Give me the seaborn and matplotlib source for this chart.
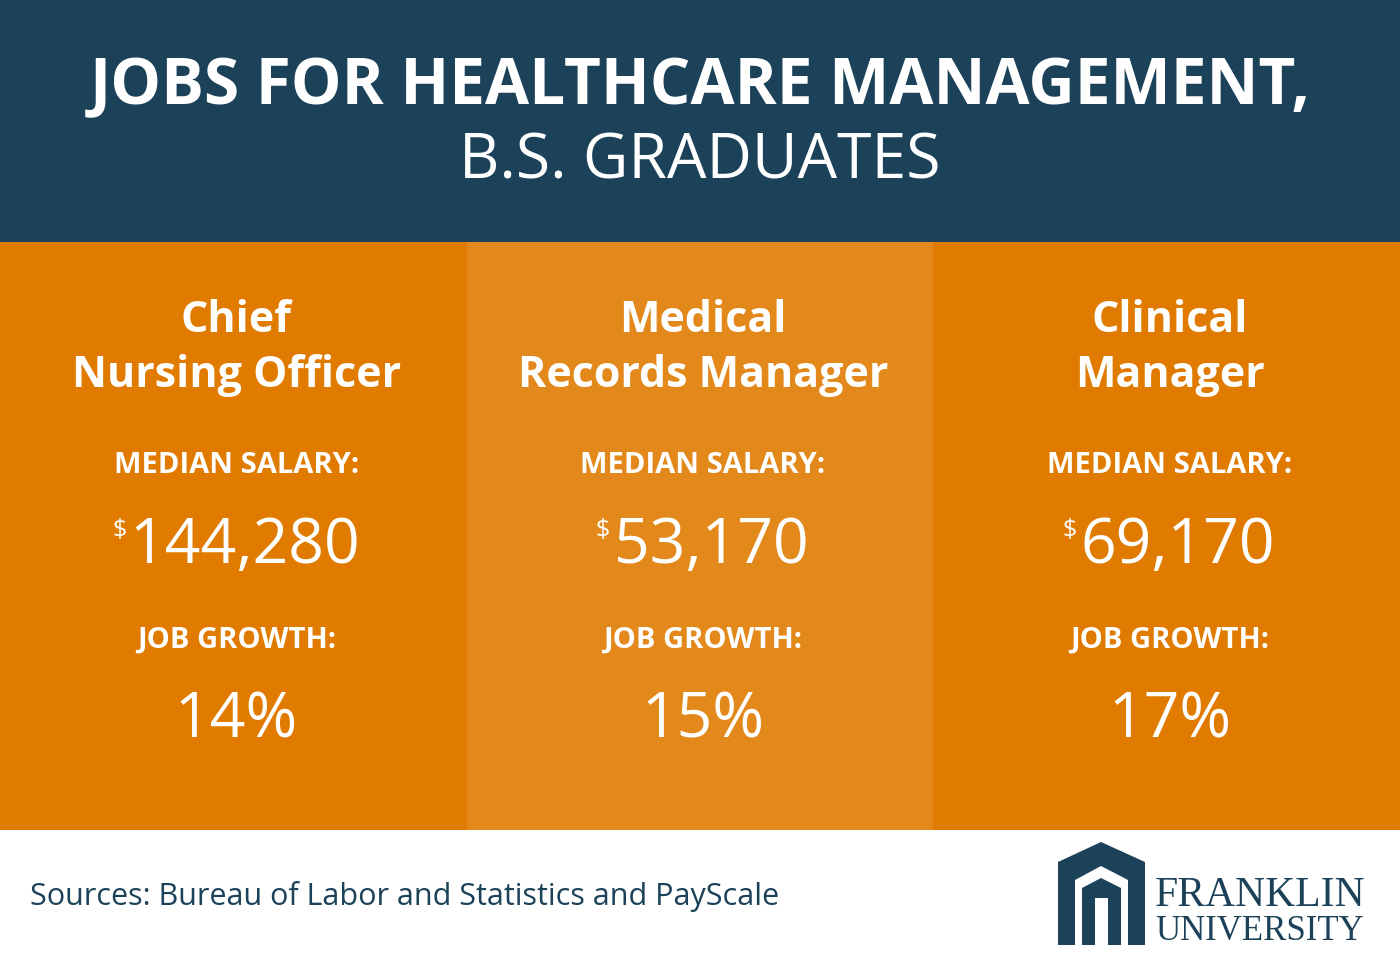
import matplotlib
matplotlib.use('Agg')
from matplotlib import pyplot as plt
from matplotlib.patches import Polygon, Rectangle
import seaborn as sns
import pandas as pd

jobs = ['Chief\nNursing Officer', 'Medical\nRecords Manager', 'Clinical\nManager']
salaries = ['144,280', '53,170', '69,170']
growth = ['14%', '15%', '17%']
panel_colors = ['#e07b00', '#e3891c', '#e07b00']

navy = '#1c4259'
sns.set_style('white')
plt.rcParams['font.family'] = ['Open Sans', 'DejaVu Sans']

fig = plt.figure(figsize=(14, 9.55), dpi=100)

# panels as bars (drawn first, beneath the text layer)
pax = fig.add_axes([0, (955 - 830) / 955, 1, (830 - 242) / 955])
df = pd.DataFrame({'job': jobs, 'h': [1, 1, 1]})
sns.barplot(data=df, x='job', y='h', hue='job', palette=panel_colors,
            width=1.0, legend=False, ax=pax, saturation=1, linewidth=0)
pax.set_ylim(0, 1)
pax.set_xlim(-0.5, 2.5)
pax.axis('off')

ax = fig.add_axes([0, 0, 1, 1])
ax.patch.set_alpha(0)
ax.set_xlim(0, 1400)
ax.set_ylim(955, 0)
ax.axis('off')

# header
ax.add_patch(Rectangle((0, 0), 1400, 242, color=navy, lw=0))
ax.text(700, 88, 'JOBS FOR HEALTHCARE MANAGEMENT,', ha='center', va='center',
        color='white', fontsize=46, fontweight='bold')
ax.text(700, 162, 'B.S. GRADUATES', ha='center', va='center',
        color='white', fontsize=45)

w = 1400 / 3
for i, (j, s, g) in enumerate(zip(jobs, salaries, growth)):
    cx = w * i + w / 2 + 3
    ax.text(cx, 348, j, ha='center', va='center', color='white',
            fontsize=31, fontweight='bold', linespacing=1.35)
    ax.text(cx, 465, 'MEDIAN SALARY:', ha='center', va='center',
            color='white', fontsize=21, fontweight='bold')
    ax.text(cx + 8, 547, s, ha='center', va='center', color='white', fontsize=45)
    ax.text(cx + 8 - len(s) * 16.5 - 2, 530, '$', ha='right', va='center',
            color='white', fontsize=18)
    ax.text(cx, 640, 'JOB GROWTH:', ha='center', va='center',
            color='white', fontsize=21, fontweight='bold')
    ax.text(cx, 721, g, ha='center', va='center', color='white', fontsize=45)

# footer
ax.text(30, 896, 'Sources: Bureau of Labor and Statistics and PayScale',
        ha='left', va='center', color=navy, fontsize=22)

# logo
ax.add_patch(Polygon([(1058, 945), (1058, 862), (1101, 842), (1145, 862), (1145, 945),
                      (1128, 945), (1128, 880), (1101, 866), (1075, 880), (1075, 945)],
                     closed=True, color=navy, lw=0))
ax.add_patch(Polygon([(1082, 945), (1082, 888), (1101, 878), (1121, 888), (1121, 945),
                      (1108, 945), (1108, 898), (1095, 898), (1095, 945)],
                     closed=True, color=navy, lw=0))
ax.text(1260, 896, 'FRANKLIN', ha='center', va='center', color=navy,
        fontsize=30, family='Liberation Serif')
ax.text(1260, 931, 'UNIVERSITY', ha='center', va='center', color=navy,
        fontsize=25, family='Liberation Serif')

plt.savefig('out.png', dpi=100, facecolor='white')
